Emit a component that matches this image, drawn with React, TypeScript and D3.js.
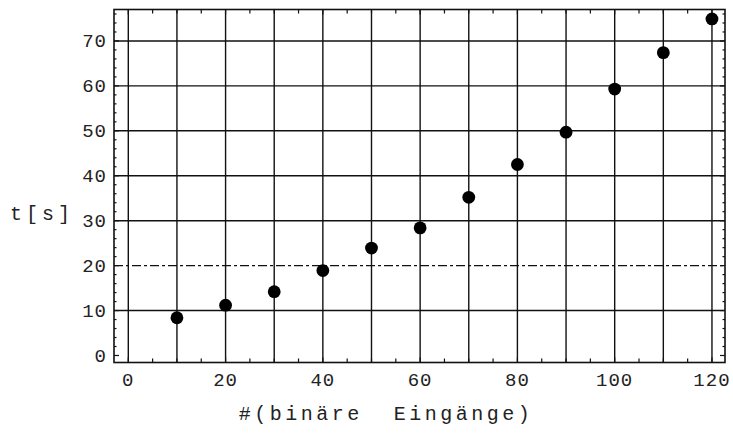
import React from "react";
import * as d3 from "d3";

const xValues = [10, 20, 30, 40, 50, 60, 70, 80, 90, 100, 110, 120];
const tValues = [8.4, 11.2, 14.2, 18.9, 23.9, 28.4, 35.2, 42.5, 49.7, 59.3, 67.4, 74.9];
const xTickLabels = [0, 20, 40, 60, 80, 100, 120];
const yTickLabels = [0, 10, 20, 30, 40, 50, 60, 70];
const xGrid = [0, 10, 20, 30, 40, 50, 60, 70, 80, 90, 100, 110, 120];
const yGrid = [10, 30, 40, 50, 60, 70];
const yDashed = [20];
const xLabel = "#(binäre  Eingänge)";
const yLabel = "t[s]";

const W = 733;
const H = 435;
const L = 114, R = 725, T = 9.5, B = 362.5;

export default function App() {
  const x = d3.scaleLinear().domain([-2.94, 122.68]).range([L, R]);
  const y = d3.scaleLinear().domain([-1.56, 77.0]).range([B, T]);
  const xMinor = d3.range(0, 121, 5);
  const yMinor = d3.range(0, 77, 2);
  const font = "'Liberation Mono', 'DejaVu Sans Mono', monospace";
  const stroke = "#111";
  return (
    <svg width={W} height={H} style={{ position: "absolute", left: 0, top: 0, background: "#fff" }}>
      <rect x={0} y={0} width={W} height={H} fill="#fff" />
      {xGrid.map((v) => (
        <line key={"gx" + v} x1={x(v)} x2={x(v)} y1={T} y2={B} stroke={stroke} strokeWidth={1.4} />
      ))}
      {yGrid.map((v) => (
        <line key={"gy" + v} x1={L} x2={R} y1={y(v)} y2={y(v)} stroke={stroke} strokeWidth={1.4} />
      ))}
      {yDashed.map((v) => (
        <line key={"gd" + v} x1={L} x2={R} y1={y(v)} y2={y(v)} stroke={stroke} strokeWidth={1.3} strokeDasharray="9,3,3,3" />
      ))}
      {xMinor.map((v) => {
        const len = v % 20 === 0 ? 5 : 4;
        return (
          <g key={"tx" + v}>
            <line x1={x(v)} x2={x(v)} y1={B} y2={B - len} stroke={stroke} strokeWidth={1.2} />
            <line x1={x(v)} x2={x(v)} y1={T} y2={T + len} stroke={stroke} strokeWidth={1.2} />
          </g>
        );
      })}
      {yMinor.map((v) => {
        const len = v % 10 === 0 ? 5 : 2.5;
        return (
          <g key={"ty" + v}>
            <line x1={L} x2={L + len} y1={y(v)} y2={y(v)} stroke={stroke} strokeWidth={1.2} />
            <line x1={R} x2={R - len} y1={y(v)} y2={y(v)} stroke={stroke} strokeWidth={1.2} />
          </g>
        );
      })}
      <rect x={L} y={T} width={R - L} height={B - T} fill="none" stroke={stroke} strokeWidth={1.6} />
      {xValues.map((v, i) => (
        <circle key={"p" + v} cx={x(v)} cy={y(tValues[i])} r={6.4} fill="#000" />
      ))}
      {xTickLabels.map((v) => (
        <text key={"lx" + v} x={x(v)} y={386} textAnchor="middle" fontFamily={font} fontSize={19} letterSpacing={1} fill="#222">
          {v}
        </text>
      ))}
      {yTickLabels.map((v) => (
        <text key={"ly" + v} x={107} y={y(v) + 6.5} textAnchor="end" fontFamily={font} fontSize={19} letterSpacing={1} fill="#222">
          {v}
        </text>
      ))}
      <text x={386} y={420} textAnchor="middle" fontFamily={font} fontSize={20} letterSpacing={3.5} fill="#222" style={{ whiteSpace: "pre" }}>
        {xLabel}
      </text>
      <text x={42} y={220} textAnchor="middle" fontFamily={font} fontSize={20} letterSpacing={4} fill="#222">
        {yLabel}
      </text>
    </svg>
  );
}
